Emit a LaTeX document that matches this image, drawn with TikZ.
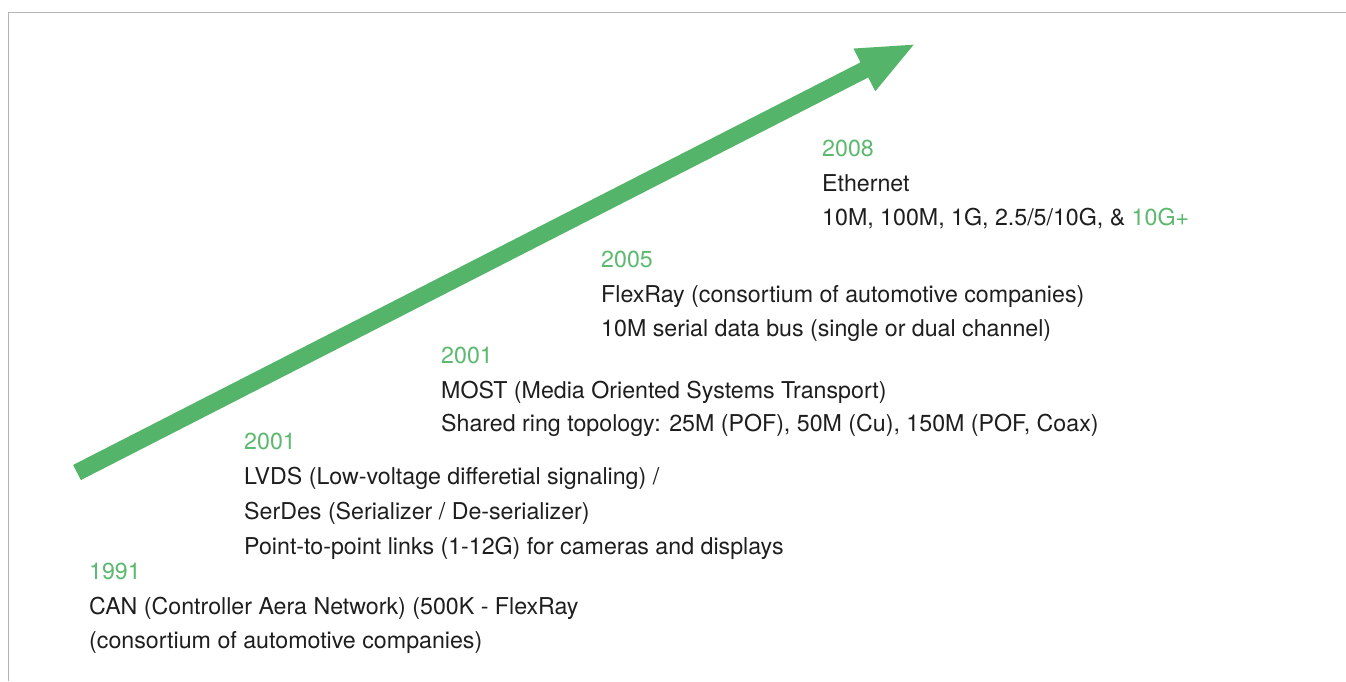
\documentclass[tikz,border=0pt]{standalone}
\usepackage{fontspec}
\setmainfont{TeX Gyre Heros}
\usetikzlibrary{arrows.meta}
\definecolor{arrowgreen}{HTML}{54B56A}
\definecolor{yeargreen}{HTML}{5CB96F}
\definecolor{txt}{HTML}{1E1E1E}
\definecolor{frame}{HTML}{B4B4B4}
\tikzset{
  line/.style={anchor=base west, inner sep=0pt, text=txt, font=\fontsize{23.2}{27}\selectfont},
  year/.style={line, text=yeargreen},
}
\begin{document}
\begin{tikzpicture}[x=1pt,y=-1pt]
\useasboundingbox (0,0) rectangle (1346,681);
% frame
\coordinate (fa) at (8.5,681);
\coordinate (fb) at (8.5,12.5);
\coordinate (fc) at (1346,12.5);
\draw[frame, line width=1.5pt] (fa) -- (fb) -- (fc);
% arrow
\coordinate (tail) at (77,472.5);
\coordinate (tip) at (916,43.5);
\draw[arrowgreen, line width=17pt, -{Triangle[length=58pt,width=43pt]}] (tail) -- (tip);
% 2008
\node[year] (y2008) at (822,156.5) {2008};
\node[line] (eth1) at (822,191) {Ethernet};
\node[line] (eth2) at (822,225.5) {10M, 100M, 1G, 2.5/5/10G, \& \textcolor{yeargreen}{10G+}};
% 2005
\node[year] (y2005) at (601,267) {2005};
\node[line] (fr1) at (601,302) {FlexRay (consortium of automotive companies)};
\node[line] (fr2) at (601,336) {10M serial data bus (single or dual channel)};
% 2001 MOST
\node[year] (y2001a) at (441,363.5) {2001};
\node[line] (most1) at (441,398) {MOST (Media Oriented Systems Transport)};
\node[line] (most2) at (441,431.5) {Shared ring topology: 25M (POF), 50M (Cu), 150M (POF, Coax)};
% 2001 LVDS
\node[year] (y2001b) at (244,449.5) {2001};
\node[line] (lv1) at (244,484) {LVDS (Low-voltage differetial signaling) /};
\node[line] (lv2) at (244,519) {SerDes (Serializer / De-serializer)};
\node[line] (lv3) at (244,554) {Point-to-point links (1-12G) for cameras and displays};
% 1991
\node[year] (y1991) at (89,579.5) {1991};
\node[line] (can1) at (89,614) {CAN (Controller Aera Network) (500K - FlexRay};
\node[line] (can2) at (89,648) {(consortium of automotive companies)};
\end{tikzpicture}
\end{document}
